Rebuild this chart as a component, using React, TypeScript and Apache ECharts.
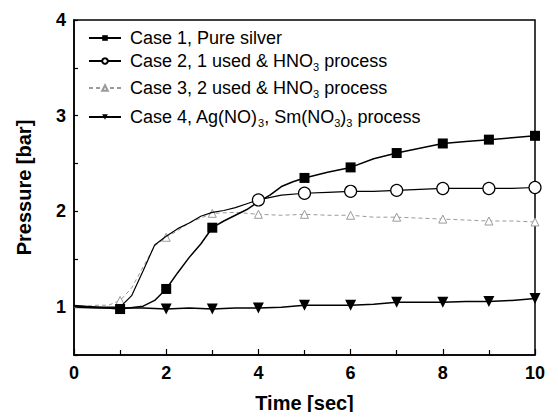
import React, { useEffect, useRef } from "react";
import * as echarts from "echarts";

// ---- data ----
const seriesNames = [
  "Case 1, Pure silver",
  "Case 2, 1 used & HNO3 process",
  "Case 3, 2 used & HNO3 process",
  "Case 4, Ag(NO)3, Sm(NO3)3 process",
];

const case1: [number, number][] = [
  [0, 1.01], [0.5, 1.0], [1, 0.98], [1.5, 1.01], [1.75, 1.07], [2, 1.19], [2.25, 1.36],
  [2.5, 1.52], [2.75, 1.66], [3, 1.83], [3.25, 1.9], [3.5, 1.96], [3.75, 2.02], [4, 2.1],
  [4.25, 2.17], [4.5, 2.26], [4.75, 2.31], [5, 2.35], [5.5, 2.41], [6, 2.46], [6.5, 2.55],
  [7, 2.61], [7.5, 2.66], [8, 2.71], [8.5, 2.73], [9, 2.75], [9.5, 2.77], [10, 2.79],
];
const case2: [number, number][] = [
  [0, 1.02], [0.5, 1.0], [1, 1.0], [1.25, 1.12], [1.5, 1.38], [1.75, 1.65], [2, 1.74],
  [2.25, 1.82], [2.5, 1.88], [2.75, 1.95], [3, 1.99], [3.25, 2.01], [3.5, 2.04], [3.75, 2.08],
  [4, 2.12], [4.5, 2.17], [5, 2.19], [5.5, 2.2], [6, 2.21], [6.5, 2.21], [7, 2.22], [7.5, 2.23],
  [8, 2.24], [8.5, 2.24], [9, 2.24], [9.5, 2.24], [10, 2.25],
];
const case3: [number, number][] = [
  [0, 1.0], [0.5, 1.02], [0.75, 1.02], [1, 1.07], [1.25, 1.2], [1.5, 1.42], [1.75, 1.64],
  [2, 1.73], [2.25, 1.8], [2.5, 1.88], [2.75, 1.93], [3, 1.98], [3.5, 1.99], [4, 1.97],
  [4.5, 1.96], [5, 1.97], [5.5, 1.96], [6, 1.96], [6.5, 1.94], [7, 1.94], [7.5, 1.93],
  [8, 1.92], [8.5, 1.91], [9, 1.9], [9.5, 1.9], [10, 1.89],
];
const case4: [number, number][] = [
  [0, 1.0], [0.5, 0.99], [1, 0.99], [1.5, 0.99], [2, 0.98], [2.5, 0.99], [3, 0.98],
  [3.5, 0.99], [4, 0.99], [4.5, 1.0], [5, 1.02], [5.5, 1.02], [6, 1.02], [6.5, 1.03],
  [7, 1.05], [7.5, 1.05], [8, 1.05], [8.5, 1.06], [9, 1.06], [9.5, 1.07], [10, 1.09],
];

// times (sec) at which each curve carries a marker
const case1Markers = [1, 2, 3, 5, 6, 7, 8, 9, 10];
const case2Markers = [4, 5, 6, 7, 8, 9, 10];
const case3Markers = [1, 2, 3, 4, 5, 6, 7, 8, 9, 10];
const case4Markers = [2, 3, 4, 5, 6, 7, 8, 9, 10];

const xTicks = { min: 0, max: 10, interval: 2 };
const yTicks = { min: 0.5, max: 4, interval: 0.5 };

const FONT = "Liberation Sans, Arial, Helvetica, sans-serif";

const legendText: Record<string, string> = {
  [seriesNames[0]]: "Case 1, Pure silver",
  [seriesNames[1]]: "Case 2, 1 used & HNO{s|3} process",
  [seriesNames[2]]: "Case 3, 2 used & HNO{s|3} process",
  [seriesNames[3]]: "Case 4, Ag(NO){s|3}, Sm(NO{s|3}){s|3} process",
};

const legendRowsY = [38, 60, 87, 116];

function sizeAt(markers: number[], size: number) {
  return (v: number[]) => (markers.indexOf(v[0]) >= 0 ? size : 0);
}

export default function App() {
  const ref = useRef<HTMLDivElement>(null);

  useEffect(() => {
    if (!ref.current) return;
    const chart = echarts.init(ref.current, undefined, { renderer: "svg" });

    const legends = seriesNames.map((n, i) => ({
      data: [n],
      left: 88,
      top: legendRowsY[i] - 10,
      padding: 0,
      itemWidth: 32,
      itemHeight: 7,
      itemGap: 0,
      selectedMode: false,
      formatter: (name: string) => legendText[name],
      textStyle: {
        fontFamily: FONT,
        fontSize: 18,
        color: "#000",
        lineHeight: 20,
        padding: [0, 0, 0, 4],
        rich: {
          s: {
            fontFamily: FONT,
            fontSize: 11,
            color: "#000",
            lineHeight: 11,
            padding: [11, 0, 0, 0],
          },
        },
      },
    }));

    chart.setOption({
      animation: false,
      backgroundColor: "#fff",
      grid: {
        left: 74,
        right: 23,
        top: 20,
        bottom: 65,
        show: true,
        borderColor: "#000",
        borderWidth: 1.5,
      },
      legend: legends,
      xAxis: {
        type: "value",
        min: xTicks.min,
        max: xTicks.max,
        interval: xTicks.interval,
        name: "Time [sec]",
        nameLocation: "middle",
        nameGap: 38,
        nameTextStyle: { fontFamily: FONT, fontWeight: "bold", fontSize: 20, color: "#000" },
        axisLine: { show: true, lineStyle: { color: "#000", width: 1.5 } },
        axisTick: { show: true, inside: true, length: 6, lineStyle: { color: "#000", width: 1.2 } },
        minorTick: { show: true, splitNumber: 2, length: 5, lineStyle: { color: "#000", width: 1.2 } },
        axisLabel: { fontFamily: FONT, fontWeight: "bold", fontSize: 18, color: "#000", margin: 9 },
        splitLine: { show: false },
      },
      yAxis: {
        type: "value",
        min: yTicks.min,
        max: yTicks.max,
        interval: yTicks.interval,
        name: "Pressure [bar]",
        nameLocation: "middle",
        nameGap: 40,
        nameTextStyle: { fontFamily: FONT, fontWeight: "bold", fontSize: 20, color: "#000" },
        axisLine: { show: true, lineStyle: { color: "#000", width: 1.5 } },
        axisTick: { show: true, inside: true, length: 4, lineStyle: { color: "#000", width: 1.2 } },
        axisLabel: {
          fontFamily: FONT,
          fontWeight: "bold",
          fontSize: 18,
          color: "#000",
          margin: 8,
          formatter: (v: number) => (Number.isInteger(v) ? String(v) : ""),
        },
        splitLine: { show: false },
      },
      series: [
        {
          name: seriesNames[3],
          type: "line",
          data: case4,
          symbol: "triangle",
          symbolRotate: 180,
          symbolSize: sizeAt(case4Markers, 11),
          showSymbol: true,
          lineStyle: { color: "#000", width: 1.5 },
          itemStyle: { color: "#000" },
          z: 2,
        },
        {
          name: seriesNames[2],
          type: "line",
          data: case3,
          symbol: "triangle",
          symbolSize: sizeAt(case3Markers, 8),
          showSymbol: true,
          lineStyle: { color: "#9a9a9a", width: 1, type: [4, 3] },
          itemStyle: { color: "#fff", borderColor: "#9a9a9a", borderWidth: 1 },
          z: 3,
        },
        {
          name: seriesNames[0],
          type: "line",
          data: case1,
          symbol: "rect",
          symbolSize: sizeAt(case1Markers, 10),
          showSymbol: true,
          lineStyle: { color: "#000", width: 1.5 },
          itemStyle: { color: "#000" },
          z: 4,
        },
        {
          name: seriesNames[1],
          type: "line",
          data: case2,
          symbol: "circle",
          symbolSize: sizeAt(case2Markers, 12),
          showSymbol: true,
          lineStyle: { color: "#000", width: 1.2 },
          itemStyle: { color: "#fff", borderColor: "#000", borderWidth: 1.2 },
          z: 5,
        },
      ],
    });

    return () => chart.dispose();
  }, []);

  return <div ref={ref} style={{ width: 558, height: 420, margin: -8 }} />;
}
